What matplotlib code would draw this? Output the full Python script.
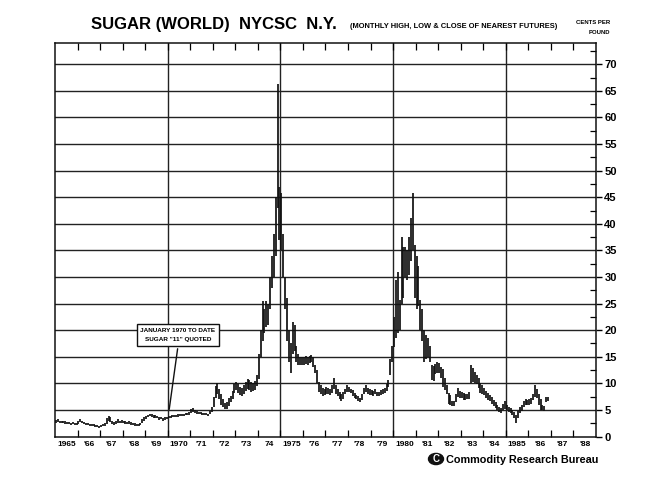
import matplotlib
matplotlib.use("Agg")
import matplotlib.pyplot as plt
from matplotlib.patches import Circle, Rectangle
import numpy as np

# ---------------- data (cents per pound, monthly high / low) ----------------
start_year = 1965
monthly_high = [
    3.1, 3.2, 3.0, 2.9, 3.0, 2.9, 2.8, 2.7, 2.6, 2.7, 2.6, 2.5,          # 1965
    3.0, 3.2, 3.0, 2.7, 2.6, 2.5, 2.4, 2.4, 2.3, 2.2, 2.1, 2.0,          # 1966
    2.2, 2.4, 2.6, 3.4, 3.8, 3.6, 3.0, 2.8, 2.9, 3.2, 3.0, 3.1,          # 1967
    3.0, 2.9, 2.8, 2.9, 2.7, 2.6, 2.5, 2.4, 2.3, 2.6, 3.2, 3.6,          # 1968
    3.9, 4.1, 4.3, 4.2, 4.0, 4.1, 3.9, 3.6, 3.7, 3.5, 3.6, 3.7,          # 1969
    3.9, 3.9, 4.0, 4.1, 4.0, 4.2, 4.3, 4.2, 4.3, 4.4, 4.5, 4.6,          # 1970
    5.2, 5.3, 5.0, 4.8, 4.7, 4.6, 4.5, 4.4, 4.4, 4.3, 4.8, 5.5,          # 1971
    7.5, 9.5, 10.0, 9.0, 8.0, 7.0, 6.3, 6.5, 7.2, 7.6, 8.5, 9.8,         # 1972
    10.3, 9.8, 9.4, 9.2, 9.6, 10.2, 10.8, 10.6, 10.2, 10.0, 10.4, 11.5,  # 1973
    15.5, 20.0, 25.5, 24.0, 25.5, 25.0, 30.0, 34.0, 38.0, 45.0, 66.3, 47.0,  # 1974
    45.7, 38.0, 30.0, 26.0, 20.0, 17.5, 21.5, 21.0, 17.0, 15.5, 15.0, 15.0,  # 1975
    15.0, 15.2, 15.0, 15.2, 15.4, 15.0, 13.5, 12.5, 10.2, 9.6, 9.2, 9.0,     # 1976
    9.4, 9.2, 9.0, 9.6, 11.0, 9.6, 9.0, 8.4, 8.0, 8.4, 9.0, 9.6,         # 1977
    9.4, 9.0, 8.8, 8.2, 7.8, 7.6, 7.2, 8.0, 9.2, 9.6, 9.2, 9.0,          # 1978
    8.8, 8.6, 9.0, 8.4, 8.3, 8.8, 9.0, 9.2, 9.8, 10.6, 14.5, 17.0,       # 1979
    22.5, 29.4, 31.0, 25.6, 37.5, 35.6, 35.6, 35.0, 37.5, 41.0, 45.7, 36.0,  # 1980
    34.0, 32.0, 25.6, 24.0, 20.0, 19.0, 18.5, 17.0, 13.4, 13.2, 13.6, 14.0,  # 1981
    13.8, 13.0, 12.7, 11.0, 9.7, 8.2, 7.8, 6.7, 6.6, 8.0, 9.1, 8.6,      # 1982
    8.4, 8.2, 7.9, 8.0, 8.4, 13.4, 12.8, 12.2, 11.6, 11.0, 10.0, 9.6,    # 1983
    9.2, 8.6, 8.2, 7.8, 7.4, 6.8, 6.4, 6.0, 5.6, 5.4, 6.2, 6.6,          # 1984
    6.0, 5.6, 5.3, 5.0, 4.6, 4.0, 4.8, 5.6, 6.0, 6.6, 7.0, 6.9,          # 1985
    7.0, 7.2, 8.0, 9.7, 9.0, 8.0, 7.0, 6.0, 5.8, 7.5, 7.4,               # 1986
]
monthly_low = [
    2.6, 2.7, 2.6, 2.5, 2.6, 2.4, 2.3, 2.3, 2.2, 2.3, 2.2, 2.1,          # 1965
    2.4, 2.7, 2.6, 2.3, 2.2, 2.1, 2.0, 2.0, 1.9, 1.8, 1.7, 1.6,          # 1966
    1.7, 1.9, 2.0, 2.4, 3.0, 2.8, 2.4, 2.2, 2.3, 2.6, 2.5, 2.6,          # 1967
    2.5, 2.4, 2.3, 2.4, 2.2, 2.1, 2.0, 2.0, 1.9, 2.1, 2.5, 3.0,          # 1968
    3.3, 3.6, 3.8, 3.7, 3.5, 3.5, 3.4, 3.1, 3.2, 3.0, 3.1, 3.2,          # 1969
    3.4, 3.5, 3.6, 3.6, 3.6, 3.7, 3.8, 3.8, 3.9, 4.0, 4.0, 4.1,          # 1970
    4.5, 4.7, 4.5, 4.3, 4.3, 4.2, 4.1, 4.0, 4.0, 3.9, 4.2, 4.7,          # 1971
    5.5, 7.2, 8.0, 7.0, 6.0, 5.6, 5.1, 5.2, 5.8, 6.4, 7.0, 8.2,          # 1972
    8.8, 8.2, 7.8, 7.6, 8.0, 8.6, 9.0, 8.8, 8.4, 8.6, 8.8, 9.5,          # 1973
    10.8, 15.0, 18.0, 19.5, 20.5, 21.0, 24.0, 28.0, 30.0, 34.0, 43.0, 37.0,  # 1974
    35.0, 30.0, 24.0, 18.0, 14.0, 12.0, 15.5, 16.0, 14.0, 13.5, 13.5, 13.5,  # 1975
    13.5, 13.6, 13.5, 13.8, 14.0, 13.0, 12.0, 10.0, 8.4, 8.0, 7.7, 7.8,      # 1976
    8.0, 8.0, 7.8, 8.2, 9.0, 8.0, 7.7, 7.0, 6.7, 7.0, 8.0, 8.4,          # 1977
    8.4, 8.2, 7.6, 7.2, 7.0, 6.7, 6.4, 6.8, 8.0, 8.4, 8.0, 7.8,          # 1978
    7.8, 7.7, 8.0, 7.6, 7.6, 7.8, 8.0, 8.2, 8.6, 9.3, 11.5, 14.0,        # 1979
    16.8, 18.5, 19.5, 20.0, 25.0, 26.0, 30.0, 29.5, 30.4, 33.0, 35.0, 26.0,  # 1980
    24.0, 24.5, 20.0, 18.0, 14.0, 14.5, 15.0, 14.0, 10.6, 10.4, 11.8, 12.0,  # 1981
    12.0, 11.0, 9.3, 8.8, 8.0, 6.2, 5.9, 5.8, 5.8, 6.5, 7.5, 7.2,        # 1982
    7.2, 6.9, 6.9, 7.0, 7.0, 10.0, 10.2, 10.0, 9.8, 9.2, 8.2, 8.0,       # 1983
    7.8, 7.2, 6.8, 6.6, 6.2, 5.8, 5.3, 5.0, 4.6, 4.5, 5.0, 5.2,          # 1984
    4.9, 4.6, 4.4, 4.0, 3.4, 2.6, 3.4, 4.4, 4.8, 5.6, 6.0, 6.0,          # 1985
    6.0, 6.2, 6.8, 7.5, 7.2, 6.0, 5.0, 5.0, 4.8, 6.4, 6.6,               # 1986
]
year_labels = ["1965", "'66", "'67", "'68", "'69", "1970", "'71", "'72", "'73", "74",
               "1975", "'76", "'77", "'78", "'79", "1980", "'81", "'82", "'83", "'84",
               "1985", "'86", "'87", "'88"]
y_ticks = [0, 5, 10, 15, 20, 25, 30, 35, 40, 45, 50, 55, 60, 65, 70]
decade_lines = [1970, 1975, 1980, 1985]

# ---------------- figure ----------------
W, H = 660, 490
fig = plt.figure(figsize=(6.6, 4.9), dpi=100)
fig.patch.set_facecolor("white")

def fx(px):
    return px / W

def fy(py):
    return 1 - py / H

ax_l, ax_r, ax_t, ax_b = 55, 596, 43, 436.5
ax = fig.add_axes([fx(ax_l), fy(ax_b), (ax_r - ax_l) / W, (ax_b - ax_t) / H])

helv = ["Liberation Sans", "DejaVu Sans"]

n = len(monthly_high)
t = start_year + (np.arange(n) + 0.5) / 12.0
ax.vlines(t, monthly_low, monthly_high, color="#111111", lw=1.25, zorder=3)

ax.set_xlim(start_year, start_year + len(year_labels))
ax.set_ylim(0, 74)

for v in y_ticks[1:]:
    ax.axhline(v, color="#222222", lw=1.0, zorder=1)
for d in decade_lines:
    ax.axvline(d, color="#222222", lw=1.0, zorder=1)

years = np.arange(start_year, start_year + len(year_labels))
ax.set_xticks(years + 0.5)
ax.set_xticklabels(year_labels, fontsize=6, fontweight="bold", family=helv)
ax.set_xticks(years[1:], minor=True)
ax.tick_params(axis="x", which="major", length=0, pad=3)
ax.tick_params(axis="x", which="minor", direction="in", length=5, width=0.9,
               top=True, bottom=True)

ax.yaxis.tick_right()
ax.set_yticks(y_ticks)
ax.set_yticklabels([str(v) for v in y_ticks], fontsize=8, fontweight="bold", family=helv)
ax.set_yticks([v + 2.5 for v in y_ticks], minor=True)
ax.tick_params(axis="y", which="major", direction="out", length=4, width=1.0, pad=2,
               left=False, right=True)
ax.tick_params(axis="y", which="minor", direction="in", length=4, width=0.9,
               left=False, right=True)

for s in ax.spines.values():
    s.set_color("#111111")
    s.set_linewidth(1.1)

# ---------------- annotation ----------------
box = Rectangle((fx(137), fy(346)), fx(219) - fx(137), fy(324) - fy(346),
                transform=fig.transFigure, fill=True, facecolor="white",
                edgecolor="#111111", lw=1.0, zorder=5)
fig.patches.append(box)
fig.text(fx(178), fy(330), "JANUARY 1970 TO DATE", ha="center", va="center",
         fontsize=4.6, fontweight="bold", family=helv, zorder=6)
fig.text(fx(178), fy(340), 'SUGAR "11" QUOTED', ha="center", va="center",
         fontsize=4.6, fontweight="bold", family=helv, zorder=6)
ax.annotate("", xy=(1970.05, 4.6), xycoords="data",
            xytext=(fx(178), fy(346)), textcoords="figure fraction",
            arrowprops=dict(arrowstyle="-", color="#111111", lw=1.0), zorder=4)

# ---------------- titles ----------------
fig.text(fx(91), fy(25), "SUGAR (WORLD)  NYCSC  N.Y.", ha="left", va="center",
         fontsize=12, fontweight="bold", family=helv)
fig.text(fx(350), fy(27), "(MONTHLY HIGH, LOW & CLOSE OF NEAREST FUTURES)", ha="left",
         va="center", fontsize=5.4, fontweight="bold", family=helv)
fig.text(fx(610), fy(22), "CENTS PER", ha="right", va="center", fontsize=4.3,
         fontweight="bold", family=helv)
fig.text(fx(610), fy(32), "POUND", ha="right", va="center", fontsize=4.3,
         fontweight="bold", family=helv)

# ---------------- publisher mark ----------------
logo = Circle((fx(436), fy(459)), 7.5 / W, transform=fig.transFigure,
              facecolor="#111111", edgecolor="#111111")
fig.patches.append(logo)
fig.text(fx(436), fy(459), "C", ha="center", va="center", color="white",
         fontsize=7, fontweight="bold", family=helv)
fig.text(fx(446), fy(459.5), "Commodity Research Bureau", ha="left", va="center",
         fontsize=7.8, fontweight="bold", family=helv)

fig.savefig("out.png", dpi=100, facecolor="white")
